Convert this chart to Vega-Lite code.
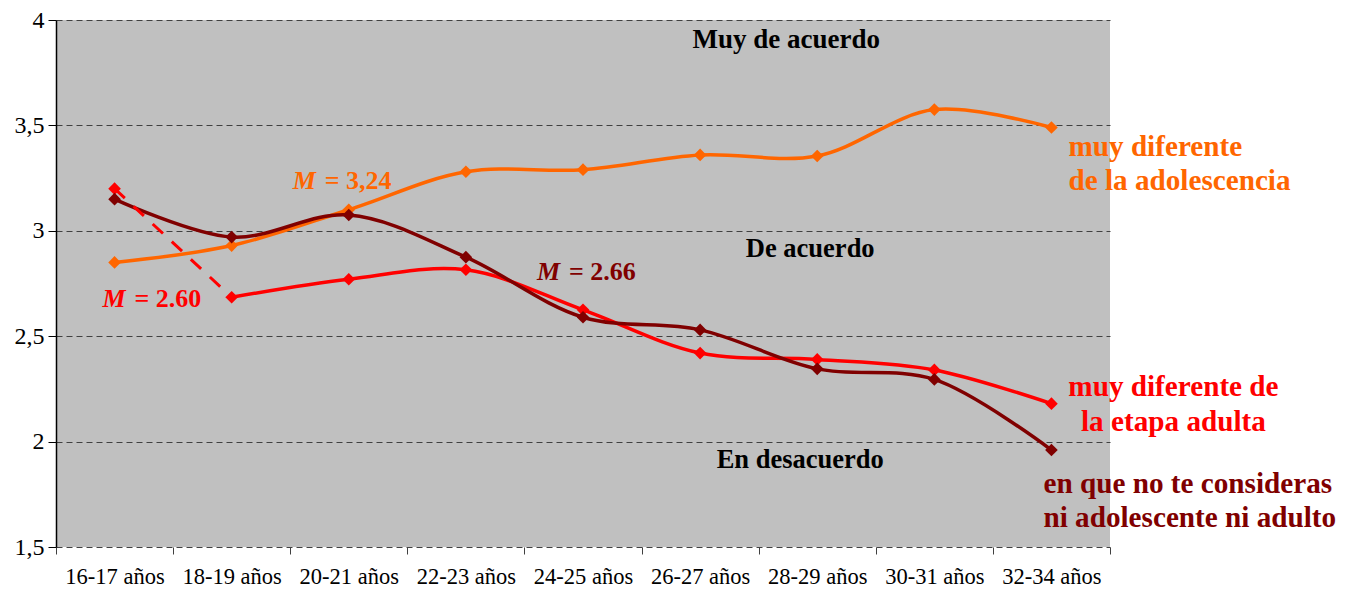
{
  "$schema": "https://vega.github.io/schema/vega-lite/v6.json",
  "width": 1054,
  "height": 527,
  "autosize": {"type": "none"},
  "padding": {"left": 56, "top": 20, "right": 246, "bottom": 45},
  "background": "white",
  "config": {
    "view": {"fill": "#C0C0C0", "stroke": null},
    "font": "Liberation Serif",
    "text": {"font": "Liberation Serif", "fontWeight": "bold", "baseline": "middle"}
  },
  "datasets": {
    "series": [
      {"edad": "16-17 años", "serie": "adolescencia", "valor": 2.85},
      {"edad": "18-19 años", "serie": "adolescencia", "valor": 2.93},
      {"edad": "20-21 años", "serie": "adolescencia", "valor": 3.10},
      {"edad": "22-23 años", "serie": "adolescencia", "valor": 3.28},
      {"edad": "24-25 años", "serie": "adolescencia", "valor": 3.29},
      {"edad": "26-27 años", "serie": "adolescencia", "valor": 3.36},
      {"edad": "28-29 años", "serie": "adolescencia", "valor": 3.355},
      {"edad": "30-31 años", "serie": "adolescencia", "valor": 3.575},
      {"edad": "32-34 años", "serie": "adolescencia", "valor": 3.49},
      {"edad": "16-17 años", "serie": "adulta", "valor": 3.20},
      {"edad": "18-19 años", "serie": "adulta", "valor": 2.685},
      {"edad": "20-21 años", "serie": "adulta", "valor": 2.77},
      {"edad": "22-23 años", "serie": "adulta", "valor": 2.815},
      {"edad": "24-25 años", "serie": "adulta", "valor": 2.625},
      {"edad": "26-27 años", "serie": "adulta", "valor": 2.42},
      {"edad": "28-29 años", "serie": "adulta", "valor": 2.39},
      {"edad": "30-31 años", "serie": "adulta", "valor": 2.34},
      {"edad": "32-34 años", "serie": "adulta", "valor": 2.18},
      {"edad": "16-17 años", "serie": "ninguno", "valor": 3.15},
      {"edad": "18-19 años", "serie": "ninguno", "valor": 2.97},
      {"edad": "20-21 años", "serie": "ninguno", "valor": 3.075},
      {"edad": "22-23 años", "serie": "ninguno", "valor": 2.875},
      {"edad": "24-25 años", "serie": "ninguno", "valor": 2.59},
      {"edad": "26-27 años", "serie": "ninguno", "valor": 2.53},
      {"edad": "28-29 años", "serie": "ninguno", "valor": 2.345},
      {"edad": "30-31 años", "serie": "ninguno", "valor": 2.295},
      {"edad": "32-34 años", "serie": "ninguno", "valor": 1.96}
    ],
    "notes": [
      {"id": "muy", "edad": "28-29 años", "valor": 3.905, "txt": "Muy de acuerdo"},
      {"id": "de", "edad": "28-29 años", "valor": 2.914, "txt": "De acuerdo"},
      {"id": "en", "edad": "28-29 años", "valor": 1.913, "txt": "En desacuerdo"},
      {"id": "o", "edad": "32-34 años", "valor": 3.398, "txt": "muy diferente"},
      {"id": "o", "edad": "32-34 años", "valor": 3.236, "txt": "de la adolescencia"},
      {"id": "r", "edad": "32-34 años", "valor": 2.259, "txt": "muy diferente de"},
      {"id": "r", "edad": "32-34 años", "valor": 2.093, "txt": "la etapa adulta"},
      {"id": "d", "edad": "32-34 años", "valor": 1.799, "txt": "en que no te consideras"},
      {"id": "d", "edad": "32-34 años", "valor": 1.638, "txt": "ni adolescente ni adulto"},
      {"id": "mo", "edad": "18-19 años", "valor": 3.236, "txt": "M", "rest": "= 3,24"},
      {"id": "mr", "edad": "16-17 años", "valor": 2.676, "txt": "M", "rest": "= 2.60"},
      {"id": "md", "edad": "24-25 años", "valor": 2.805, "txt": "M", "rest": "= 2.66"}
    ]
  },
  "encoding": {
    "x": {
      "field": "edad", "type": "nominal",
      "scale": {"domain": ["16-17 años", "18-19 años", "20-21 años", "22-23 años", "24-25 años", "26-27 años", "28-29 años", "30-31 años", "32-34 años"], "paddingInner": 0, "paddingOuter": 0},
      "axis": {"title": null, "labelAngle": 0, "labelFont": "Liberation Serif", "labelFontSize": 22.5, "labelColor": "black", "tickBand": "extent", "tickSize": 7, "tickColor": "#404040", "domain": false, "labelPadding": 11, "grid": false}
    },
    "y": {
      "field": "valor", "type": "quantitative",
      "scale": {"domain": [1.5, 4], "nice": false, "zero": false},
      "axis": {"title": null, "values": [1.5, 2, 2.5, 3, 3.5, 4], "labelExpr": "replace(format(datum.value, ''), '.', ',')", "labelFont": "Liberation Serif", "labelFontSize": 24, "labelColor": "black", "tickSize": 8, "tickColor": "black", "labelPadding": 4, "domainColor": "black", "domainWidth": 1.5, "grid": true, "gridDash": [6, 4], "gridColor": "#404040", "gridWidth": 1}
    }
  },
  "layer": [
    {"mark": {"type": "rule", "color": "black", "strokeWidth": 1.5}, "encoding": {"y": {"datum": 2.5}, "x": {"value": 0}, "x2": {"value": 1054}}},
    {
      "data": {"name": "series"},
      "transform": [{"filter": "!(datum.serie == 'adulta' && datum.edad == '16-17 años')"}],
      "mark": {"type": "line", "interpolate": "catmull-rom", "strokeWidth": 3.5},
      "encoding": {
        "color": {"field": "serie", "type": "nominal", "scale": {"domain": ["adolescencia", "adulta", "ninguno"], "range": ["#FF6600", "#FF0000", "#800000"]}, "legend": null}
      }
    },
    {
      "data": {"name": "series"},
      "transform": [{"filter": "datum.serie == 'adulta' && (datum.edad == '16-17 años' || datum.edad == '18-19 años')"}],
      "mark": {"type": "line", "strokeWidth": 3, "strokeDash": [14, 12], "color": "#FF0000"},
      "encoding": {}
    },
    {
      "data": {"name": "series"},
      "mark": {"type": "point", "shape": "diamond", "filled": true, "opacity": 1, "size": 160},
      "encoding": {
        "color": {"field": "serie", "type": "nominal", "scale": {"domain": ["adolescencia", "adulta", "ninguno"], "range": ["#FF6600", "#FF0000", "#800000"]}, "legend": null}
      }
    },
    {"data": {"name": "notes"}, "transform": [{"filter": "datum.id == 'muy'"}], "mark": {"type": "text", "fontSize": 27, "color": "black", "dx": -31, "align": "center"}, "encoding": {"text": {"field": "txt"}}},
    {"data": {"name": "notes"}, "transform": [{"filter": "datum.id == 'de'"}], "mark": {"type": "text", "fontSize": 26.5, "color": "black", "dx": -7, "align": "center"}, "encoding": {"text": {"field": "txt"}}},
    {"data": {"name": "notes"}, "transform": [{"filter": "datum.id == 'en'"}], "mark": {"type": "text", "fontSize": 26.5, "color": "black", "dx": -17, "align": "center"}, "encoding": {"text": {"field": "txt"}}},
    {"data": {"name": "notes"}, "transform": [{"filter": "datum.id == 'o'"}], "mark": {"type": "text", "fontSize": 29.2, "color": "#FF6600", "dx": 17, "align": "left"}, "encoding": {"text": {"field": "txt"}}},
    {"data": {"name": "notes"}, "transform": [{"filter": "datum.id == 'r'"}], "mark": {"type": "text", "fontSize": 29.2, "color": "#FF0000", "dx": 122, "align": "center"}, "encoding": {"text": {"field": "txt"}}},
    {"data": {"name": "notes"}, "transform": [{"filter": "datum.id == 'd'"}], "mark": {"type": "text", "fontSize": 29.2, "color": "#800000", "dx": -8, "align": "left"}, "encoding": {"text": {"field": "txt"}}},
    {"data": {"name": "notes"}, "transform": [{"filter": "datum.id == 'mo'"}], "mark": {"type": "text", "fontSize": 26, "fontStyle": "italic", "color": "#FF6600", "dx": 61, "align": "left"}, "encoding": {"text": {"field": "txt"}}},
    {"data": {"name": "notes"}, "transform": [{"filter": "datum.id == 'mo'"}], "mark": {"type": "text", "fontSize": 26, "color": "#FF6600", "dx": 93, "align": "left"}, "encoding": {"text": {"field": "rest"}}},
    {"data": {"name": "notes"}, "transform": [{"filter": "datum.id == 'mr'"}], "mark": {"type": "text", "fontSize": 26, "fontStyle": "italic", "color": "#FF0000", "dx": -12, "align": "left"}, "encoding": {"text": {"field": "txt"}}},
    {"data": {"name": "notes"}, "transform": [{"filter": "datum.id == 'mr'"}], "mark": {"type": "text", "fontSize": 26, "color": "#FF0000", "dx": 20, "align": "left"}, "encoding": {"text": {"field": "rest"}}},
    {"data": {"name": "notes"}, "transform": [{"filter": "datum.id == 'md'"}], "mark": {"type": "text", "fontSize": 26, "fontStyle": "italic", "color": "#800000", "dx": -46, "align": "left"}, "encoding": {"text": {"field": "txt"}}},
    {"data": {"name": "notes"}, "transform": [{"filter": "datum.id == 'md'"}], "mark": {"type": "text", "fontSize": 26, "color": "#800000", "dx": -14, "align": "left"}, "encoding": {"text": {"field": "rest"}}}
  ]
}
